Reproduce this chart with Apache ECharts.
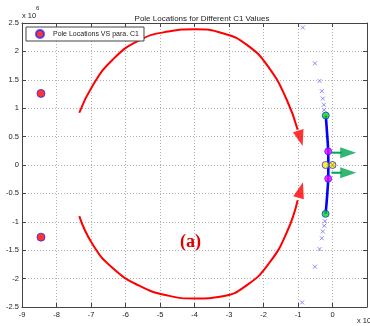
<!DOCTYPE html>
<html>
<head>
<meta charset="utf-8">
<script src="https://cdn.jsdelivr.net/npm/echarts@6/dist/echarts.min.js"></script>
<style>
  html, body { margin: 0; padding: 0; background: #fff; }
  #chart { width: 370px; height: 326px; }
</style>
</head>
<body>
<div id="chart"></div>
<script>
// Axis ticks (units of 10^6)
const xTicks = [-9, -8, -7, -6, -5, -4, -3, -2, -1, 0, 1];
const yTicks = [-2.5, -2, -1.5, -1, -0.5, 0, 0.5, 1, 1.5, 2, 2.5];

// Poles for the baseline parameter
const polesC1 = [[-8.45, 1.26], [-8.45, -1.27]];

// Pole trajectory as C1 varies
const trajectoryMarks = [
  [-0.86, 2.42], [-0.51, 1.79], [-0.375, 1.48], [-0.31, 1.30], [-0.28, 1.17], [-0.25, 1.06], [-0.24, 0.97],
  [-0.22, -0.99], [-0.24, -1.07], [-0.28, -1.17], [-0.31, -1.29], [-0.375, -1.48], [-0.51, -1.79], [-0.88, -2.42]
];
const trajectoryLine = [[-0.195, 0.87], [-0.16, 0.58], [-0.125, 0.24], [-0.12, 0], [-0.125, -0.24], [-0.16, -0.58], [-0.2, -0.86]];
const greenPoles = [[-0.195, 0.87], [-0.2, -0.86]];
const magentaPoles = [[-0.125, 0.24], [-0.125, -0.24]];
const yellowPoles = [[-0.2, 0], [0.0, 0]];

// Red migration curves
const upperCurve = [[-7.34, 0.92], [-6.95, 1.40], [-6.38, 1.85], [-5.62, 2.19], [-4.76, 2.35], [-3.99, 2.39],
  [-3.18, 2.32], [-2.47, 2.11], [-1.84, 1.71], [-1.32, 1.14], [-1.01, 0.62]];
const lowerCurve = [[-7.34, -0.90], [-6.95, -1.40], [-6.38, -1.81], [-5.62, -2.12], [-4.76, -2.30], [-3.99, -2.35],
  [-3.18, -2.31], [-2.47, -2.11], [-1.84, -1.73], [-1.32, -1.18], [-1.01, -0.62]];
const upperHead = [-0.93, 0.47];
const lowerHead = [-0.92, -0.44];

// Green direction arrows
const arrowUpper = [[-0.03, 0.217], [0.27, 0.217]];
const arrowLower = [[-0.03, -0.136], [0.27, -0.136]];
const arrowUpperHead = [0.455, 0.217];
const arrowLowerHead = [0.455, -0.136];

const FONT = 'Liberation Sans';
const xMark = 'path://M0,0L10,10M10,0L0,10';

const chart = echarts.init(document.getElementById('chart'), null, { renderer: 'canvas' });

const poleStyle = (c) => ({ color: c, borderColor: '#2a2aff', borderWidth: 1 });

const baseX = {
  type: 'value', min: -9, max: 1, interval: 1,
  axisLine: { show: true, onZero: false, lineStyle: { color: '#444', width: 1 } },
  axisTick: { show: true, inside: true, length: 4, lineStyle: { color: '#444' } },
  splitLine: { show: false }
};
const baseY = {
  type: 'value', min: -2.5, max: 2.5, interval: 0.5,
  axisLine: { show: true, onZero: false, lineStyle: { color: '#444', width: 1 } },
  axisTick: { show: true, inside: true, length: 4, lineStyle: { color: '#444' } },
  splitLine: { show: false }
};

chart.setOption({
  animation: false,
  backgroundColor: '#fff',
  title: {
    text: 'Pole Locations for Different C1 Values',
    left: 197, top: 10, textAlign: 'center',
    textStyle: { fontFamily: FONT, fontSize: 8, fontWeight: 'normal', color: '#222' }
  },
  legend: {
    data: ['Pole Locations VS para. C1'],
    left: 26, top: 27, orient: 'horizontal',
    padding: [2, 5, 2, 9],
    borderColor: '#444', borderWidth: 1, backgroundColor: '#fff',
    itemWidth: 8, itemHeight: 8, itemGap: 4,
    textStyle: { fontFamily: FONT, fontSize: 7, color: '#222', padding: [0, 0, 0, 4] }
  },
  grid: { left: 22, right: -1, top: 23, bottom: 19, containLabel: false, show: false },
  xAxis: [
    Object.assign({}, baseX, {
      position: 'bottom',
      axisLabel: {
        show: true, fontFamily: FONT, fontSize: 7.5, color: '#222', margin: 4,
        formatter: (v) => (v >= 1 ? '' : String(v))
      },
      splitLine: { show: true, lineStyle: { color: '#b0b0b0', type: [1, 2], width: 1 } }
    }),
    Object.assign({}, baseX, { position: 'top', axisLabel: { show: false } })
  ],
  yAxis: [
    Object.assign({}, baseY, {
      position: 'left',
      axisLabel: { show: true, fontFamily: FONT, fontSize: 7.5, color: '#222', margin: 3 },
      splitLine: { show: true, lineStyle: { color: '#b0b0b0', type: [1, 2], width: 1 } }
    }),
    Object.assign({}, baseY, { position: 'right', axisLabel: { show: false } })
  ],
  graphic: [
    { type: 'text', left: 22, top: 12, style: { text: 'x 10', fontFamily: FONT, fontSize: 7.5, fill: '#222' } },
    { type: 'text', left: 36, top: 5, style: { text: '6', fontFamily: FONT, fontSize: 6, fill: '#222' } },
    { type: 'text', left: 357, top: 317, style: { text: 'x 10', fontFamily: FONT, fontSize: 7.5, fill: '#222' } },
    { type: 'text', left: 370, top: 310, style: { text: '6', fontFamily: FONT, fontSize: 6, fill: '#222' } },
    { type: 'text', left: 180, top: 233, style: { text: '(a)', fontFamily: 'Liberation Serif', fontSize: 18, fontWeight: 'bold', fill: '#e00000' } }
  ],
  series: [
    {
      name: 'upper path', type: 'line', data: upperCurve, smooth: 0.5, showSymbol: false,
      lineStyle: { color: '#ff0000', width: 2 }, silent: true, z: 2
    },
    {
      name: 'lower path', type: 'line', data: lowerCurve, smooth: 0.5, showSymbol: false,
      lineStyle: { color: '#ff0000', width: 2 }, silent: true, z: 2
    },
    {
      name: 'path heads', type: 'scatter', z: 3,
      data: [
        { value: upperHead, symbolRotate: 196 },
        { value: lowerHead, symbolRotate: -16 }
      ],
      symbol: 'triangle', symbolSize: [11, 16],
      itemStyle: { color: '#ff0000' }
    },
    {
      name: 'Pole Locations VS para. C1', type: 'scatter', data: polesC1,
      symbol: 'circle', symbolSize: 8, itemStyle: poleStyle('#ff0000'), z: 5
    },
    {
      name: 'trajectory marks', type: 'scatter', data: trajectoryMarks,
      symbol: xMark, symbolSize: 4,
      itemStyle: { color: 'rgba(0,0,0,0)', borderColor: '#7070ff', borderWidth: 1 }, z: 4
    },
    {
      name: 'trajectory', type: 'line', data: trajectoryLine, smooth: 0.4, showSymbol: false,
      lineStyle: { color: '#0000ff', width: 2.6 }, z: 4
    },
    {
      name: 'arrow upper', type: 'line', data: arrowUpper, showSymbol: false,
      lineStyle: { color: '#00a650', width: 2 }, z: 3
    },
    {
      name: 'arrow lower', type: 'line', data: arrowLower, showSymbol: false,
      lineStyle: { color: '#00a650', width: 2 }, z: 3
    },
    {
      name: 'arrow heads', type: 'scatter', data: [arrowUpperHead, arrowLowerHead],
      symbol: 'triangle', symbolSize: [11, 16], symbolRotate: -90,
      itemStyle: { color: '#00a650' }, z: 3
    },
    {
      name: 'green poles', type: 'scatter', data: greenPoles, symbol: 'circle', symbolSize: 7,
      itemStyle: poleStyle('#00dd00'), z: 6
    },
    {
      name: 'magenta poles', type: 'scatter', data: magentaPoles, symbol: 'circle', symbolSize: 7,
      itemStyle: poleStyle('#ff00ff'), z: 6
    },
    {
      name: 'yellow poles', type: 'scatter', data: yellowPoles, symbol: 'circle', symbolSize: 7,
      itemStyle: poleStyle('#ffee00'), z: 6
    },
    {
      name: 'yellow marks', type: 'scatter', data: [yellowPoles[1]], symbol: xMark, symbolSize: 6,
      itemStyle: { color: 'rgba(0,0,0,0)', borderColor: '#8a8a40', borderWidth: 1 }, z: 7
    }
  ]
});
</script>
</body>
</html>
